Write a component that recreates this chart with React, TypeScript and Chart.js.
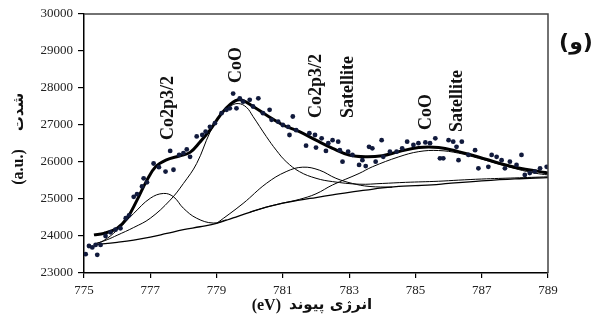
import React, { useEffect, useRef } from "react";
import { Chart, registerables } from "chart.js";

Chart.register(...registerables);

// ---- data ----
const xTicks = [775, 777, 779, 781, 783, 785, 787, 789];
const yTicks = [23000, 24000, 25000, 26000, 27000, 28000, 29000, 30000];

const pointsX = [
  775.05, 775.15, 775.25, 775.35, 775.4, 775.5, 775.65, 775.8, 775.95, 776.1,
  776.26, 776.36, 776.5, 776.6, 776.75, 776.8, 776.9, 777.1, 777.26, 777.46,
  777.6, 777.7, 777.87, 778.0, 778.1, 778.2, 778.4, 778.57, 778.67, 778.8,
  778.95, 779.15, 779.3, 779.4, 779.5, 779.6, 779.7, 779.8, 780.0, 780.1,
  780.26, 780.4, 780.6, 780.66, 780.86, 781.0, 781.16, 781.2, 781.3, 781.4,
  781.7, 781.8, 781.97, 782.0, 782.17, 782.3, 782.37, 782.5, 782.67, 782.72,
  782.8, 782.97, 783.1, 783.3, 783.4, 783.5, 783.6, 783.7, 783.8, 783.98,
  784.03, 784.23, 784.43, 784.6, 784.75, 784.94, 785.09, 785.3, 785.44, 785.6,
  785.74, 785.84, 786.0, 786.14, 786.24, 786.3, 786.4, 786.6, 786.8, 786.9,
  787.2, 787.3, 787.45, 787.6, 787.7, 787.85, 788.05, 788.2, 788.3, 788.45,
  788.6, 788.76, 788.96,
];
const pointsY = [
  23510, 23730, 23690, 23760, 23490, 23760, 24000, 24100, 24170, 24210,
  24480, 24560, 25060, 25130, 25340, 25560, 25450, 25960, 25860, 25740,
  26300, 25790, 26190, 26240, 26340, 26140, 26690, 26730, 26820, 26950,
  27050, 27320, 27410, 27450, 27850, 27450, 27720, 27630, 27680, 27500,
  27720, 27320, 27410, 27140, 27090, 27000, 26950, 26730, 27230, 26860,
  26440, 26780, 26730, 26390, 26640, 26300, 26510, 26590, 26550, 26320,
  26010, 26280, 26190, 25920, 26050, 25890, 26410, 26370, 26010, 26590,
  26140, 26280, 26280, 26370, 26550, 26460, 26510, 26530, 26510, 26640,
  26100, 26100, 26590, 26550, 26410, 26050, 26550, 26190, 26320, 25830,
  25870, 26190, 26140, 26050, 25830, 26010, 25920, 26190, 25650, 25700,
  25740, 25830, 25870,
];

const envelopeX = [775.3, 775.6, 776.0, 776.3, 776.6, 776.9, 777.16, 777.47, 777.9, 778.2, 778.5, 778.8, 779.1, 779.4, 779.7, 780.1, 780.5, 781.0, 781.5, 782.0, 782.5, 783.0, 783.5, 784.0, 784.5, 785.1, 785.7, 786.3, 786.9, 787.55, 788.15, 788.76, 789.0];
const envelopeY = [24030, 24070, 24210, 24480, 24970, 25510, 25870, 26050, 26170, 26260, 26540, 26860, 27250, 27550, 27680, 27500, 27270, 27000, 26820, 26590, 26370, 26190, 26140, 26170, 26280, 26390, 26390, 26280, 26140, 25960, 25830, 25740, 25700];

const backgroundX = [775.3, 776.0, 776.5, 777.0, 777.5, 778.0, 778.5, 779.0, 779.5, 780.0, 780.5, 781.0, 781.5, 782.0, 782.5, 783.0, 783.5, 784.0, 784.5, 785.0, 785.5, 786.0, 787.0, 788.0, 789.0];
const backgroundY = [23760, 23830, 23890, 23970, 24070, 24170, 24250, 24340, 24490, 24640, 24780, 24890, 24970, 25040, 25110, 25180, 25240, 25300, 25340, 25360, 25380, 25420, 25490, 25545, 25580];

const co2pX = [775.3, 775.6, 776.0, 776.5, 777.0, 777.4, 777.7, 778.0, 778.4, 778.9, 779.3];
const co2pY = [23780, 23880, 24160, 24610, 25020, 25150, 25060, 24750, 24480, 24350, 24440];

const cooX = [775.3, 775.7, 776.0, 776.5, 777.0, 777.6, 778.0, 778.4, 778.8, 779.1, 779.4, 779.65, 779.9, 780.1, 780.5, 780.8, 781.1, 781.5, 782.0, 782.5, 783.3, 784.0, 784.7, 785.7, 786.3, 787.0, 788.0, 789.0];
const cooY = [23770, 23900, 24020, 24230, 24480, 24970, 25420, 25960, 26800, 27250, 27500, 27580, 27480, 27230, 26690, 26320, 26010, 25740, 25560, 25470, 25400, 25420, 25450, 25480, 25510, 25540, 25570, 25600];

const co2pSatX = [779.0, 779.8, 780.5, 781.1, 781.6, 782.1, 782.6, 783.1, 783.6, 784.3];
const co2pSatY = [24340, 24880, 25420, 25740, 25860, 25780, 25560, 25420, 25340, 25320];

const cooSatX = [780.0, 780.5, 781.0, 781.5, 782.0, 782.5, 783.3, 783.7, 784.5, 785.1, 785.7, 786.3, 786.9, 787.5, 788.1, 788.6, 789.0];
const cooSatY = [24640, 24780, 24890, 24990, 25140, 25380, 25690, 25870, 26140, 26280, 26310, 26240, 26100, 25950, 25800, 25700, 25650];

const peakLabels = ["Co2p3/2", "CoO", "Co2p3/2", "Satellite", "CoO", "Satellite"];
const peakLabelX = [777.53, 779.59, 782.0, 782.97, 785.32, 786.26];
const peakLabelY = [26595, 28135, 27190, 27190, 26865, 26810];

const panelLabel = "(و)";
const xTitleUnit = "(eV)";
const xTitleText = "انرژی پیوند";
const yTitleUnit = "(a.u.)";
const yTitleText = "شدت";

const toXY = (xs: number[], ys: number[]) => xs.map((x, i) => ({ x, y: ys[i] }));

const SERIF = "'Liberation Serif', 'Times New Roman', 'DejaVu Sans', serif";

const decorPlugin = {
  id: "decor",
  afterDraw(chart: any) {
    const { ctx, chartArea, scales } = chart;
    const xs = scales.x;
    const ys = scales.y;
    ctx.save();
    // frame top & right
    ctx.strokeStyle = "#444";
    ctx.lineWidth = 1.5;
    ctx.beginPath();
    ctx.moveTo(chartArea.left, chartArea.top);
    ctx.lineTo(chartArea.right, chartArea.top);
    ctx.lineTo(chartArea.right, chartArea.bottom);
    ctx.stroke();

    // peak labels (rotated)
    ctx.fillStyle = "#111";
    ctx.font = `bold 18px ${SERIF}`;
    ctx.textAlign = "left";
    ctx.textBaseline = "middle";
    peakLabels.forEach((t, i) => {
      const px = xs.getPixelForValue(peakLabelX[i]);
      const py = ys.getPixelForValue(peakLabelY[i]);
      ctx.save();
      ctx.translate(px, py);
      ctx.rotate(-Math.PI / 2);
      ctx.fillText(t, 0, 0);
      ctx.restore();
    });

    // panel label
    ctx.font = `bold 22px 'DejaVu Sans', ${SERIF}`;
    ctx.textAlign = "center";
    ctx.fillText(panelLabel, chartArea.right + 28, chartArea.top + 29);

    // x title
    ctx.font = `bold 16px ${SERIF}`;
    const cx = (chartArea.left + chartArea.right) / 2 - 21;
    ctx.textAlign = "right";
    ctx.fillText(xTitleUnit, cx - 14, chartArea.bottom + 33);
    ctx.textAlign = "left";
    ctx.font = `bold 15px 'DejaVu Sans', ${SERIF}`;
    ctx.fillText(xTitleText, cx - 6, chartArea.bottom + 32);

    // y title
    ctx.save();
    ctx.translate(19, 0);
    ctx.rotate(-Math.PI / 2);
    ctx.textAlign = "center";
    ctx.font = `bold 16px ${SERIF}`;
    ctx.fillText(yTitleUnit, -167, 0);
    ctx.font = `bold 15px 'DejaVu Sans', ${SERIF}`;
    ctx.fillText(yTitleText, -112, 0);
    ctx.restore();

    ctx.restore();
  },
};

export default function App() {
  const ref = useRef<HTMLCanvasElement | null>(null);

  useEffect(() => {
    if (!ref.current) return;
    const lineDs = (label: string, xs: number[], ys: number[], width: number) => ({
      type: "line" as const,
      label,
      data: toXY(xs, ys),
      borderColor: "#000",
      borderWidth: width,
      pointRadius: 0,
      tension: 0.4,
      fill: false,
      showLine: true,
    });
    const chart = new Chart(ref.current, {
      type: "scatter",
      data: {
        datasets: [
          {
            type: "scatter" as const,
            label: "data",
            data: toXY(pointsX, pointsY),
            backgroundColor: "#111a3c",
            borderColor: "#111a3c",
            pointRadius: 2.4,
            borderWidth: 0,
          },
          lineDs("envelope", envelopeX, envelopeY, 3),
          lineDs("Co2p3/2", co2pX, co2pY, 1),
          lineDs("CoO", cooX, cooY, 1),
          lineDs("Co2p3/2 sat", co2pSatX, co2pSatY, 1),
          lineDs("CoO sat", cooSatX, cooSatY, 1),
          lineDs("background", backgroundX, backgroundY, 1.3),
        ] as any,
      },
      options: {
        animation: false,
        responsive: false,
        maintainAspectRatio: false,
        layout: { padding: { top: 14, right: 47, left: 0, bottom: 0 } },
        plugins: { legend: { display: false }, tooltip: { enabled: false } },
        scales: {
          x: {
            type: "linear",
            min: 775,
            max: 789,
            afterBuildTicks: (s: any) => {
              s.ticks = xTicks.map((v) => ({ value: v }));
            },
            afterFit: (s: any) => {
              s.height = 45;
            },
            grid: { drawOnChartArea: false, drawTicks: true, tickLength: 5, color: "#000", lineWidth: 1.2 },
            border: { display: true, color: "#000", width: 1.5 },
            ticks: { color: "#222", font: { family: SERIF, size: 13 }, padding: 5, maxRotation: 0 },
          },
          y: {
            type: "linear",
            min: 23000,
            max: 30000,
            afterBuildTicks: (s: any) => {
              s.ticks = yTicks.map((v) => ({ value: v }));
            },
            afterFit: (s: any) => {
              s.width = 84;
            },
            grid: { drawOnChartArea: false, drawTicks: true, tickLength: 6, color: "#000", lineWidth: 1.2 },
            border: { display: true, color: "#000", width: 1.5 },
            ticks: { color: "#222", font: { family: SERIF, size: 13 }, padding: 5, callback: (v: any) => String(v) },
          },
        },
      },
      plugins: [decorPlugin],
    });
    return () => chart.destroy();
  }, []);

  return (
    <div style={{ position: "absolute", left: 0, top: 0, width: 595, height: 318, background: "#fff" }}>
      <canvas ref={ref} width={595} height={318} style={{ width: 595, height: 318, display: "block" }} />
    </div>
  );
}
